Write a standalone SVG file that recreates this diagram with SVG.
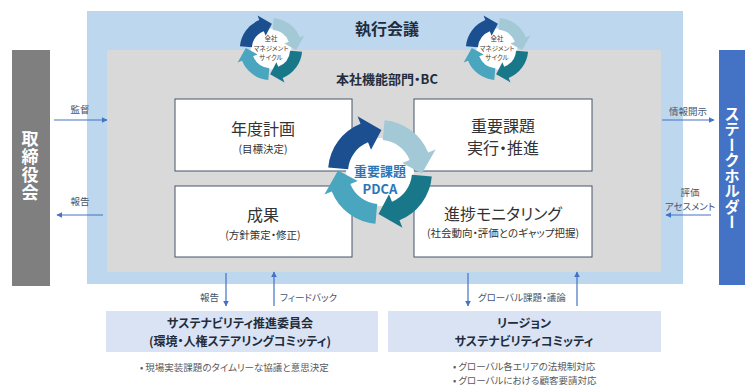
<svg xmlns="http://www.w3.org/2000/svg" xmlns:xlink="http://www.w3.org/1999/xlink" width="745" height="387" viewBox="0 0 745 387">
<style>
text{font-family:"Noto Sans CJK JP","Noto Sans",sans-serif;font-feature-settings:"palt";}
.lbl{font-size:9.5px;fill:#44546a;}
.box{fill:#fff;stroke:#44546a;stroke-width:1;}
.bt{font-size:16px;fill:#333;text-anchor:middle;}
.bs{font-size:10.5px;fill:#333;text-anchor:middle;}
.cm{fill:#dae3f3;}
.cmt{font-size:12px;font-weight:bold;fill:#1f2d3d;text-anchor:middle;}
.bul{font-size:9.5px;fill:#595959;}
.ln{stroke:#4472c4;stroke-width:1.2;fill:none;marker-end:url(#ah);}
.vt{writing-mode:vertical-rl;font-feature-settings:normal;fill:#fff;font-weight:bold;text-anchor:middle;}
.sc{font-size:6.5px;fill:#404040;text-anchor:middle;}
</style>
<defs>
<marker id="ah" viewBox="0 0 10 10" refX="9" refY="5" markerWidth="6" markerHeight="6" markerUnits="userSpaceOnUse" orient="auto">
<path d="M0 0 L10 5 L0 10 Z" fill="#4472c4"/>
</marker>
<path id="pa" d="M -51.80 -4.53 A 52 52 0 0 1 -19.48 -48.21 L -22.48 -55.63 L 1.47 -41.97 L -8.99 -22.25 L -11.99 -29.67 A 32 32 0 0 0 -31.88 -2.79 Z"/>
<g id="cyc">
<circle r="34" fill="#fff"/>
<use xlink:href="#pa" fill="#1c4f8f"/>
<use xlink:href="#pa" fill="#a3c9d6" transform="rotate(90)"/>
<use xlink:href="#pa" fill="#19778a" transform="rotate(180)"/>
<use xlink:href="#pa" fill="#4aa5be" transform="rotate(270)"/>
</g>
</defs>

<g id="exec">
<rect x="87" y="11" width="596" height="273" fill="#bdd7ee"/>
<text x="387" y="35" font-size="16" font-weight="bold" fill="#1f2d3d" text-anchor="middle">執行会議</text>
</g>
<g id="hq">
<rect x="107" y="50" width="554" height="222" fill="#d9d9d9"/>
<text x="387" y="84" font-size="13" font-weight="bold" fill="#1f2d3d" text-anchor="middle">本社機能部門・BC</text>
</g>

<g id="board">
<rect x="12" y="50" width="38" height="236" fill="#7f7f7f"/>
<text class="vt" x="30" y="166" font-size="17" letter-spacing="1">取締役会</text>
</g>
<g id="stakeholder">
<rect x="719" y="50" width="26" height="235" fill="#4472c4"/>
<text class="vt" x="732" y="168" font-size="15.5">ステークホルダー</text>
</g>

<g id="cycle-left">
<use xlink:href="#cyc" transform="translate(271,49) scale(0.6)"/>
<text class="sc" x="271" y="41">全社</text>
<text class="sc" x="271" y="50.5">マネジメント</text>
<text class="sc" x="271" y="60">サイクル</text>
</g>
<g id="cycle-right">
<use xlink:href="#cyc" transform="translate(497,49) scale(0.6)"/>
<text class="sc" x="497" y="41">全社</text>
<text class="sc" x="497" y="50.5">マネジメント</text>
<text class="sc" x="497" y="60">サイクル</text>
</g>

<g id="plan">
<rect class="box" x="175" y="99" width="177" height="72"/>
<text class="bt" x="263" y="135">年度計画</text>
<text class="bs" x="263" y="153">(目標決定)</text>
</g>
<g id="result">
<rect class="box" x="175" y="186" width="177" height="71"/>
<text class="bt" x="263" y="221">成果</text>
<text class="bs" x="263" y="239">(方針策定・修正)</text>
</g>
<g id="execute">
<rect class="box" x="414" y="99" width="178" height="72"/>
<text class="bt" x="503" y="132">重要課題</text>
<text class="bt" x="503" y="154">実行・推進</text>
</g>
<g id="monitor">
<rect class="box" x="414" y="186" width="178" height="71"/>
<text class="bt" x="503" y="220">進捗モニタリング</text>
<text class="bs" x="503" y="237">(社会動向・評価とのギャップ把握)</text>
</g>

<g id="pdca">
<use xlink:href="#cyc" transform="translate(380,172)"/>
<text x="380" y="176" font-size="13" font-weight="bold" fill="#2e75b6" text-anchor="middle">重要課題</text>
<text x="380" y="194" font-size="13" font-weight="bold" fill="#2e75b6" text-anchor="middle">PDCA</text>
</g>

<g id="committee">
<rect class="cm" x="106" y="311" width="272" height="41"/>
<text class="cmt" x="240" y="328">サステナビリティ推進委員会</text>
<text class="cmt" x="240" y="346">(環境・人権ステアリングコミッティ)</text>
<text class="bul" x="140" y="371">• 現場実装課題のタイムリーな協議と意思決定</text>
</g>
<g id="region">
<rect class="cm" x="388" y="311" width="273" height="41"/>
<text class="cmt" x="524" y="328">リージョン</text>
<text class="cmt" x="524" y="346">サステナビリティコミッティ</text>
<text class="bul" x="453" y="370">• グローバル各エリアの法規制対応</text>
<text class="bul" x="453" y="384">• グローバルにおける顧客要請対応</text>
</g>

<g id="connectors">
<line class="ln" x1="54" y1="120" x2="107" y2="120"/>
<text class="lbl" x="80" y="113" text-anchor="middle">監督</text>
<line class="ln" x1="103" y1="215" x2="57" y2="215"/>
<text class="lbl" x="80" y="205" text-anchor="middle">報告</text>
<line class="ln" x1="662" y1="120" x2="714" y2="120"/>
<text class="lbl" x="688" y="115" text-anchor="middle">情報開示</text>
<line class="ln" x1="711" y1="215" x2="666" y2="215"/>
<text class="lbl" x="690" y="196" text-anchor="middle">評価</text>
<text class="lbl" x="690" y="210" text-anchor="middle">アセスメント</text>
<line class="ln" x1="226" y1="273" x2="226" y2="306"/>
<text class="lbl" x="219" y="301" text-anchor="end">報告</text>
<line class="ln" x1="274" y1="306" x2="274" y2="272"/>
<text class="lbl" x="280" y="301">フィードバック</text>
<line class="ln" x1="468" y1="273" x2="468" y2="306"/>
<text class="lbl" x="478" y="301">グローバル課題・議論</text>
<line class="ln" x1="577" y1="306" x2="577" y2="272"/>
</g>
</svg>
